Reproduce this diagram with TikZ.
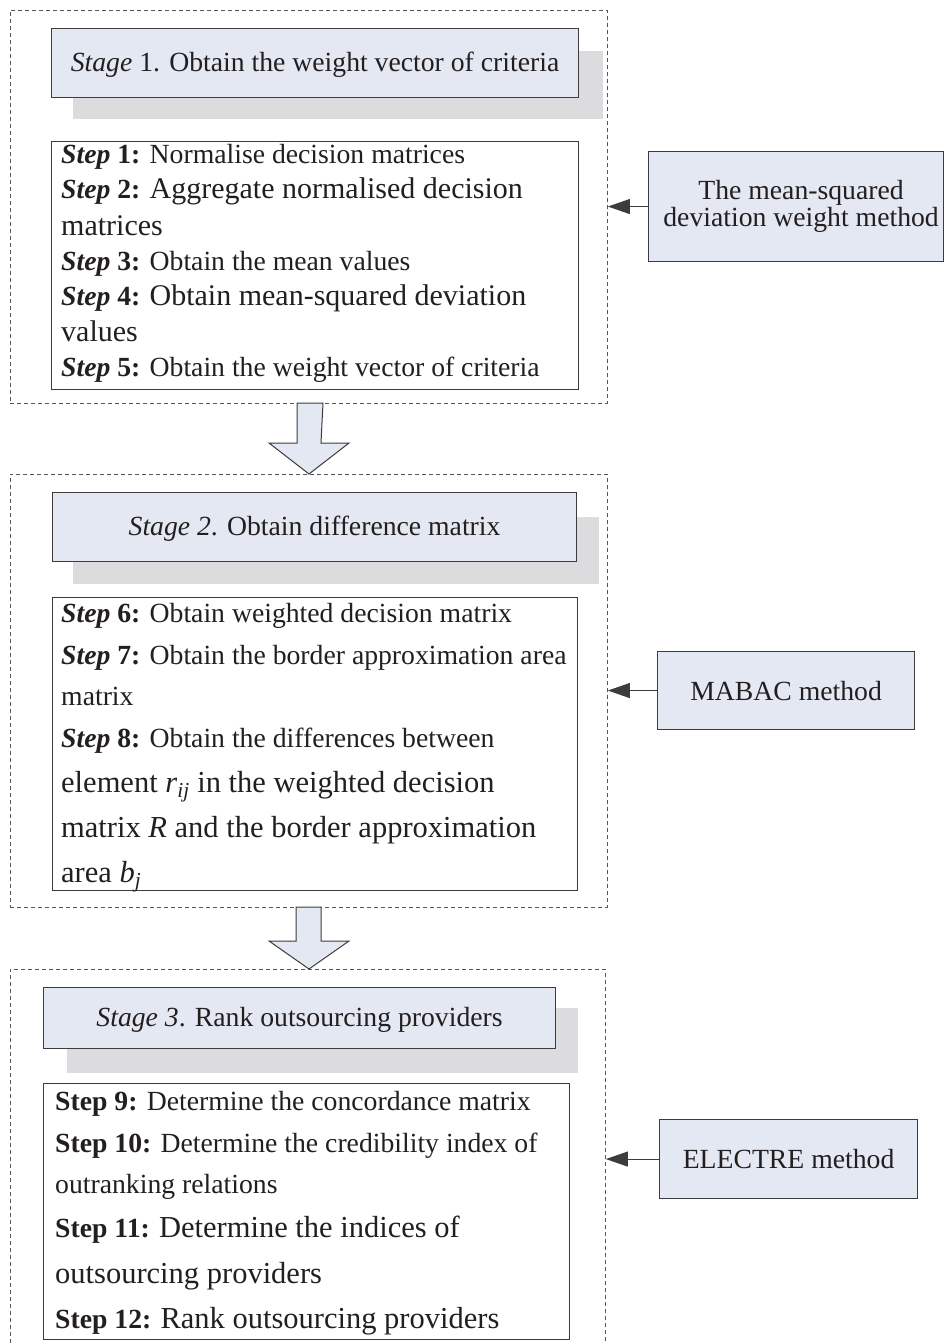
\documentclass[tikz,border=0pt]{standalone}
\usepackage{fontspec}
\setmainfont{Liberation Serif}
\usetikzlibrary{arrows.meta,calc}
\definecolor{stagefill}{RGB}{228,232,242}
\definecolor{shadowgray}{RGB}{220,220,222}
\definecolor{linegray}{RGB}{60,60,60}
\definecolor{dashgray}{RGB}{85,85,85}
\definecolor{ink}{RGB}{35,31,32}
\newcommand{\stpi}[1]{\textbf{\textit{Step} #1:}}
\newcommand{\stpb}[1]{\textbf{Step #1:}}
\newcommand{\fsn}{\fontsize{27.7}{33}\selectfont}
\newcommand{\fsl}{\fontsize{30.5}{36}\selectfont}
\newcommand{\fsm}{\fontsize{30}{36}\selectfont}
\begin{document}
\begin{tikzpicture}[x=1pt,y=-1pt,
  frame/.style={draw=dashgray, dash pattern=on 4pt off 3pt, line width=0.9pt, inner sep=0pt, anchor=north west},
  stagebox/.style={draw=linegray, fill=stagefill, line width=1.1pt, inner sep=0pt, anchor=north west},
  shadowbox/.style={fill=shadowgray, inner sep=0pt, anchor=north west},
  stepbox/.style={draw=linegray, fill=white, line width=1.1pt, inner sep=0pt, anchor=north west},
  methodbox/.style={draw=linegray, fill=stagefill, line width=1.1pt, inner sep=0pt, anchor=north west, text=ink, font=\fsn},
  txt/.style={inner sep=0pt, anchor=base west, text=ink, font=\fsn},
  ctxt/.style={inner sep=0pt, anchor=base, text=ink, font=\fsn},
  conn/.style={draw=linegray, line width=1pt, -{Triangle[length=22pt,width=15pt]}},
  blockarrow/.style={draw=linegray, fill=stagefill, line width=1pt, line join=miter}
]
\useasboundingbox (0,0) rectangle (944,1343);
\fill[white] (0,0) rectangle (944,1343);
\begin{scope}
\clip (0,0) rectangle (944,1343);
% frames
\node[frame, minimum width=597pt, minimum height=393pt] (f1) at (10,10) {};
\node[frame, minimum width=597pt, minimum height=433pt] (f2) at (10,474) {};
\node[frame, minimum width=595pt, minimum height=400pt] (f3) at (10,969) {};
\end{scope}

% block arrows between stages
\draw[blockarrow] (297,403) -- (323,403) -- (321,443) -- (349,443) -- (309,474) -- (269,443) -- (297,443) -- cycle;
\draw[blockarrow] (296,907) -- (321,907) -- (321,941) -- (349,941) -- (309,969) -- (269,941) -- (296,941) -- cycle;

% ---------- Stage 1
\node[shadowbox, minimum width=530pt, minimum height=68pt] (sh1) at (73,51) {};
\node[stagebox, minimum width=527pt, minimum height=69pt] (st1) at (51,28) {};
\node[ctxt] (st1t) at ($(st1.center)+(0,8.5)$) {\textit{Stage} 1. Obtain the weight vector of criteria};
\node[stepbox, minimum width=527pt, minimum height=248pt] (s1) at (51,141) {};
\node[txt] (l11) at (61,164) {\stpi{1} Normalise decision matrices};
\node[txt] (l12) at (61,199) {\stpi{2} {\fsm Aggregate normalised decision}};
\node[txt] (l13) at (61,235) {\fsm matrices};
\node[txt] (l14) at (61,270) {\stpi{3} Obtain the mean values};
\node[txt] (l15) at (61,305) {\stpi{4} {\fsm Obtain mean-squared deviation}};
\node[txt] (l16) at (61,341) {\fsm values};
\node[txt] (l17) at (61,376) {\stpi{5} Obtain the weight vector of criteria};

\node[methodbox, minimum width=295pt, minimum height=110pt] (m1) at (648,151) {};
\node[inner sep=0pt, anchor=center, align=center, text=ink, font=\fontsize{27.7}{27.5}\selectfont] (m1t) at ($(m1.center)+(5,0)$) {The mean-squared\\deviation weight method};
\draw[conn] (m1.west) -- (m1.west -| f1.east);

% ---------- Stage 2
\node[shadowbox, minimum width=526pt, minimum height=67pt] (sh2) at (73,517) {};
\node[stagebox, minimum width=524pt, minimum height=69pt] (st2) at (52,492) {};
\node[ctxt] (st2t) at ($(st2.center)+(0,8.5)$) {\textit{Stage 2}. Obtain difference matrix};
\node[stepbox, minimum width=525pt, minimum height=293pt] (s2) at (52,597) {};
\node[txt] (l21) at (61,622) {\stpi{6} Obtain weighted decision matrix};
\node[txt] (l22) at (61,664) {\stpi{7} Obtain the border approximation area};
\node[txt] (l23) at (61,705) {matrix};
\node[txt] (l24) at (61,747) {\stpi{8} Obtain the differences between};
\node[txt] (l25) at (61,792) {\fsl element \textit{r}\textsubscript{\textit{ij}} in the weighted decision};
\node[txt] (l26) at (61,837) {\fsl matrix \textit{R} and the border approximation};
\node[txt] (l27) at (61,882) {\fsl area \textit{b}\textsubscript{\textit{j}}};

\node[methodbox, minimum width=257pt, minimum height=78pt] (m2) at (657,651) {MABAC method};
\draw[conn] (m2.west) -- (m2.west -| f2.east);

% ---------- Stage 3
\node[shadowbox, minimum width=511pt, minimum height=65pt] (sh3) at (67,1008) {};
\node[stagebox, minimum width=512pt, minimum height=61pt] (st3) at (43,987) {};
\node[ctxt] (st3t) at ($(st3.center)+(0,8.5)$) {\textit{Stage 3}. Rank outsourcing providers};
\node[stepbox, minimum width=526pt, minimum height=256pt] (s3) at (43,1083) {};
\node[txt] (l31) at (55,1110) {\stpb{9} Determine the concordance matrix};
\node[txt] (l32) at (55,1152) {\stpb{10} Determine the credibility index of};
\node[txt] (l33) at (55,1193) {outranking relations};
\node[txt] (l34) at (55,1237) {\stpb{11} {\fsl Determine the indices of}};
\node[txt] (l35) at (55,1283) {\fsl outsourcing providers};
\node[txt] (l36) at (55,1328) {\stpb{12} {\fsl Rank outsourcing providers}};

\node[methodbox, minimum width=258pt, minimum height=79pt] (m3) at (659,1119) {ELECTRE method};
\draw[conn] (m3.west) -- (m3.west -| f3.east);
\end{tikzpicture}
\end{document}
